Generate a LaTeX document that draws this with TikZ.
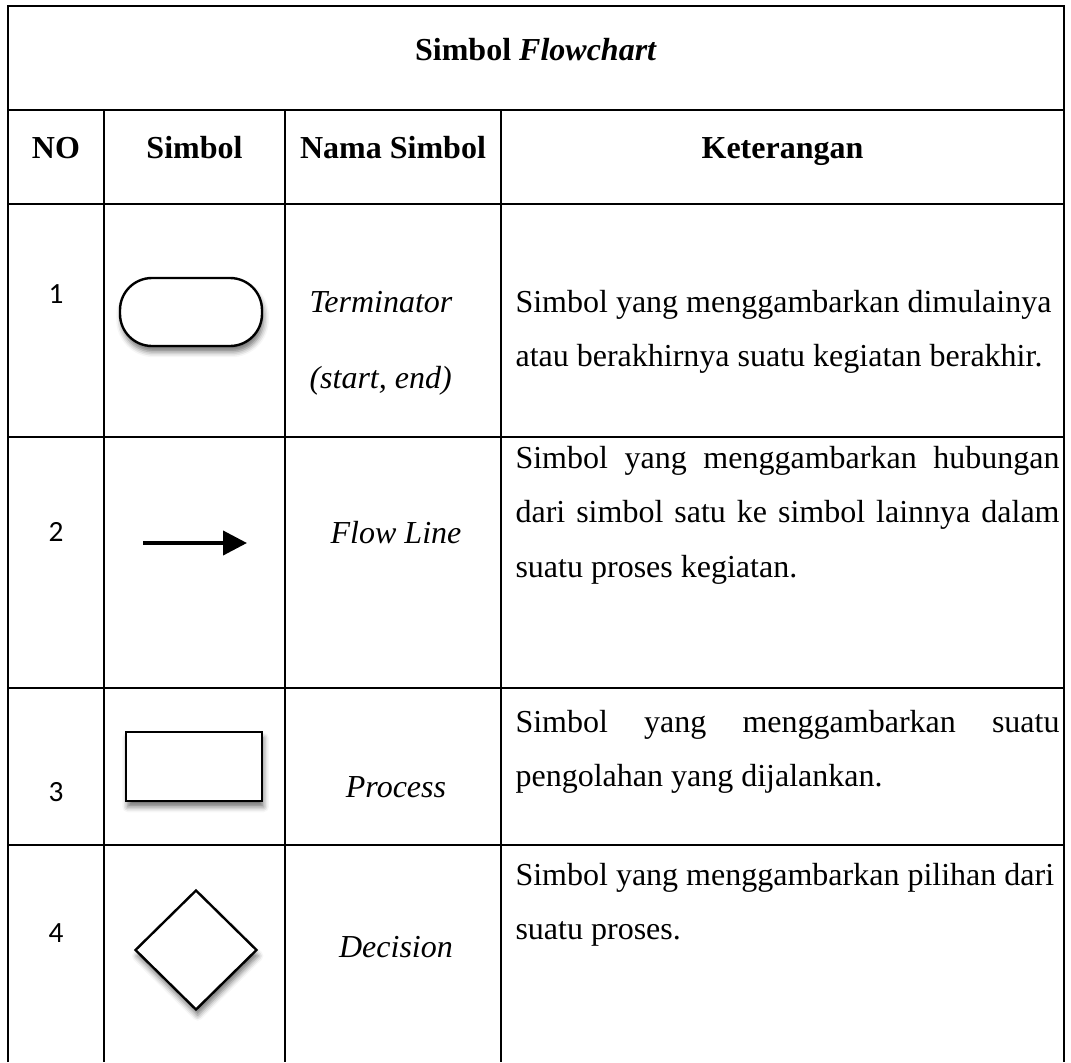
\documentclass[tikz,border=0pt]{standalone}
\usepackage{fontspec}
\setmainfont{Liberation Serif}
\newfontfamily\numfont{Carlito}
\usepackage{xcolor}
\usepackage{tikz}
\usetikzlibrary{shapes,arrows.meta,positioning,shadows.blur}

\tikzset{
  tabline/.style={line width=0.75pt},
  head/.style={inner sep=0pt, anchor=base, font=\fontsize{12}{14}\selectfont\bfseries},
  num/.style={inner sep=0pt, font=\numfont\fontsize{11}{13}\selectfont},
  nama/.style={inner sep=0pt, font=\fontsize{12}{14}\selectfont\itshape},
  ket/.style={inner sep=0pt, anchor=base west, text width=204pt, align=justify,
    font=\fontsize{12}{20.6}\selectfont},
  sym/.style={draw, line width=0.9pt, fill=white, inner sep=0pt,
    blur shadow={shadow xshift=0.6pt, shadow yshift=-2.2pt,
      shadow blur radius=2pt, shadow opacity=55}},
}

\begin{document}
\begin{tikzpicture}[x=0.375pt, y=-0.375pt]
  \useasboundingbox (0,0) rectangle (1071,1062);

  % table frame
  \draw[tabline] (8,1062) -- (8,6) -- (1064,6) -- (1064,1062);
  \draw[tabline] (8,110) -- (1064,110);
  \draw[line width=1.1pt] (8,204) -- (1064,204);
  \foreach \x in {104,285,501}
    \draw[tabline] (\x,110) -- (\x,1062);
  \foreach \y in {437,688,845}
    \draw[tabline] (8,\y) -- (1064,\y);

  % title and header
  \node[head] (title) at (536,61) {Simbol \textit{Flowchart}};
  \node[head] (hno) at (56,159) {NO};
  \node[head] (hsim) at (194.5,159) {Simbol};
  \node[head] (hnama) at (393,159) {Nama Simbol};
  \node[head] (hket) at (782.5,159) {Keterangan};

  % row 1
  \node[num] (no1) at (56,294) {1};
  \node[sym, rectangle, rounded corners=12pt, minimum width=53.25pt,
    minimum height=25.5pt] (term) at (191,312) {};
  \node[nama, anchor=base west] (nama1a) at (309,312) {Terminator};
  \node[nama, anchor=base west] (nama1b) at (309,388) {(start, end)};
  \node[ket] (ket1) at (515,312)
    {Simbol yang menggambarkan dimulainya\\ atau berakhirnya suatu kegiatan berakhir.};

  % row 2
  \node[num] (no2) at (56,532) {2};
  \coordinate (fla) at (143,543);
  \coordinate (flb) at (247,543);
  \draw[line width=1.5pt, -{Triangle[length=9pt,width=9pt]}] (fla) -- (flb);
  \node[nama, anchor=base] (nama2) at (396,543) {Flow Line};
  \node[ket] (ket2) at (515,468)
    {Simbol yang menggambarkan hubungan\linebreak dari simbol satu ke simbol lainnya dalam\linebreak suatu proses kegiatan.};

  % row 3
  \node[num] (no3) at (56,792) {3};
  \node[sym, rectangle, minimum width=51pt, minimum height=25.9pt] (proc) at (194,766.5) {};
  \node[nama, anchor=base] (nama3) at (396,797) {Process};
  \node[ket] (ket3) at (515,732)
    {Simbol yang menggambarkan suatu\linebreak pengolahan yang dijalankan.};

  % row 4
  \node[num] (no4) at (56,933) {4};
  \node[sym, diamond, minimum width=45.75pt, minimum height=45pt] (dec) at (196,950) {};
  \node[nama, anchor=base] (nama4) at (396,957) {Decision};
  \node[ket] (ket4) at (515,885)
    {Simbol yang menggambarkan pilihan dari\\ suatu proses.};
\end{tikzpicture}
\end{document}
